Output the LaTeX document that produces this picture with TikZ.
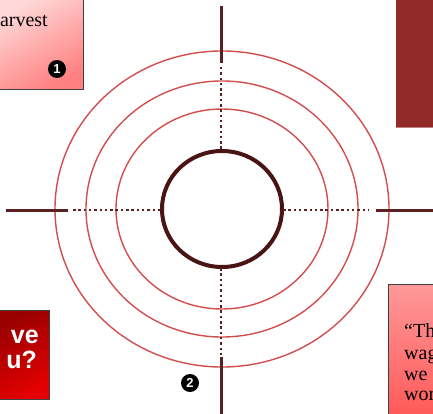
\documentclass[tikz,border=0pt]{standalone}
\usepackage{fontspec}
\setmainfont{Liberation Serif}
\newfontfamily\arialfont{Liberation Sans}
\begin{document}
\begin{tikzpicture}[x=1pt,y=-1pt,
  ring/.style={draw=ringred,line width=1.4pt},
  bullseye/.style={draw=darkcore,line width=4pt},
  solidarm/.style={draw=armcol,line width=3pt},
  dotarm/.style={draw=armcol,line width=2.2pt,dash pattern=on 2.5pt off 2.8pt},
  panel/.style={draw=black!75,line width=0.8pt},
  serifbig/.style={inner sep=0pt,font=\fontsize{20}{21}\selectfont},
  sansbig/.style={inner sep=0pt,text=white,font=\arialfont\bfseries\fontsize{25}{26}\selectfont},
  numdot/.style={circle,fill=black,text=white,font=\arialfont\bfseries\fontsize{13}{13}\selectfont,inner sep=0pt,minimum size=18pt}]
\definecolor{ringred}{HTML}{D24E4E}
\definecolor{darkcore}{HTML}{4A1414}
\definecolor{armcol}{HTML}{5C1F22}
\definecolor{wine}{HTML}{922A2A}
\definecolor{deepred}{HTML}{980000}
\definecolor{brightred}{HTML}{E40000}
\useasboundingbox (0,0) rectangle (433,414);
\fill[white] (0,0) rectangle (433,414);

% panels
\path[panel,top color=pink!60!white,bottom color=red!50!white,shading angle=30] (-2,-2) rectangle (83,89);
\node[anchor=base east,serifbig] (harvest) at (48,27) {arvest};
\node[numdot] (n1) at (57,69) {1};

\fill[wine] (396,-2) rectangle (435,127);
\draw[wine!60!white,line width=0.8pt] (396,127) -- (435,127);

\path[panel,top color=deepred,bottom color=brightred,shading angle=30] (-2,310) rectangle (49,399);
\node[anchor=base east,sansbig] (qa) at (39,343) {ve};
\node[anchor=base east,sansbig] (qb) at (37,368) {u?};

\path[panel,top color=red!40!white,bottom color=red!65!white] (388,284) rectangle (435,416);
\node[anchor=base west,serifbig] (q1) at (404,337) {“Th};
\node[anchor=base west,serifbig] (q2) at (404,359) {wag};
\node[anchor=base west,serifbig] (q3) at (404,380) {we};
\node[anchor=base west,serifbig] (q4) at (404,400) {wor};

% target
\coordinate (c) at (222,209);
\draw[ring] (c) ellipse [x radius=167,y radius=158];
\draw[ring] (c) ellipse [x radius=136,y radius=128];
\draw[ring] (c) ellipse [x radius=106,y radius=100];
\draw[bullseye] (c) ellipse [x radius=60,y radius=58];

% crosshair
\coordinate (l0) at (6,210);  \coordinate (l1) at (68,210);
\coordinate (l2) at (73,210); \coordinate (l3) at (162,210);
\coordinate (r0) at (283,210); \coordinate (r1) at (368,210);
\coordinate (r2) at (376,210); \coordinate (r3) at (435,210);
\coordinate (t0) at (221,6);  \coordinate (t1) at (221,63);
\coordinate (t2) at (221,67); \coordinate (t3) at (221,151);
\coordinate (b0) at (221,268); \coordinate (b1) at (221,356);
\coordinate (b2) at (221,357); \coordinate (b3) at (221,416);
\draw[solidarm] (l0) -- (l1);
\draw[dotarm] (l2) -- (l3);
\draw[dotarm] (r0) -- (r1);
\draw[solidarm] (r2) -- (r3);
\draw[solidarm] (t0) -- (t1);
\draw[dotarm] (t2) -- (t3);
\draw[dotarm] (b0) -- (b1);
\draw[solidarm] (b2) -- (b3);

\node[numdot] (n2) at (190,383) {2};
\end{tikzpicture}
\end{document}
